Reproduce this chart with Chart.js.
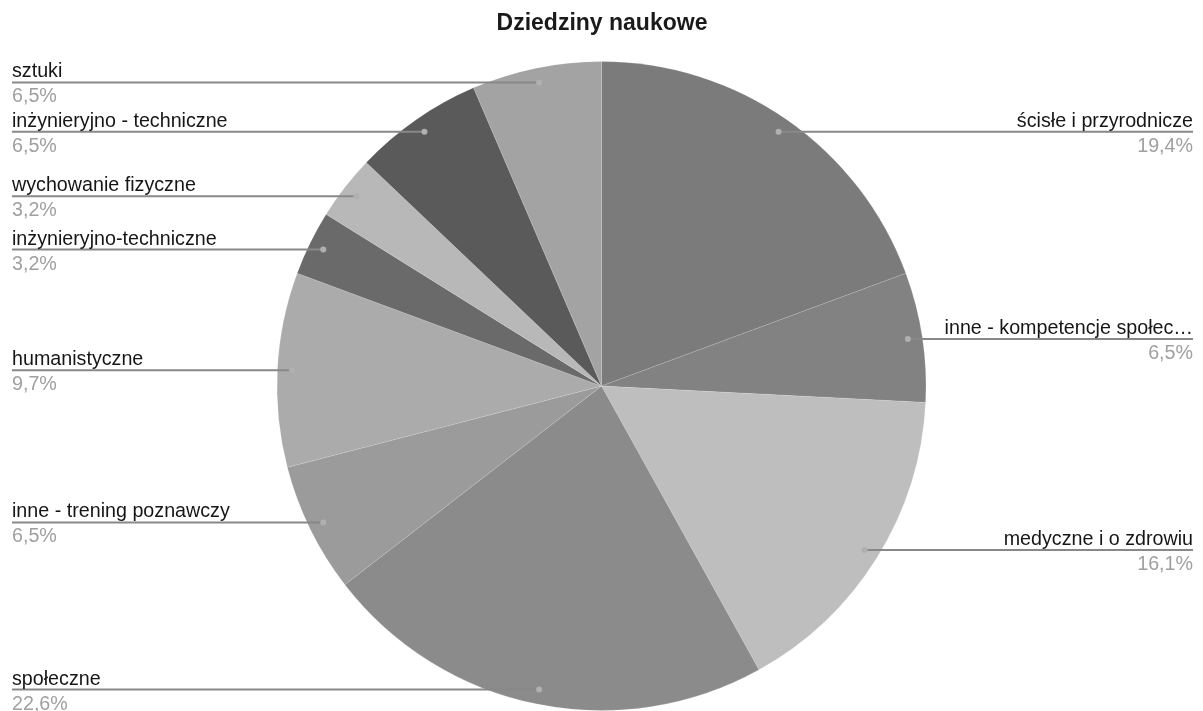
<!DOCTYPE html>
<html>
<head>
<meta charset="utf-8">
<script src="https://cdn.jsdelivr.net/npm/chart.js@4"></script>
<style>
html,body{margin:0;padding:0;background:#fff;}
#wrap{width:1203px;height:711px;}
</style>
</head>
<body>
<div id="wrap"><canvas id="c" width="1203" height="711"></canvas></div>
<script>
const chartTitle = "Dziedziny naukowe";
const categories = [
  "ścisłe i przyrodnicze",
  "inne - kompetencje społec…",
  "medyczne i o zdrowiu",
  "społeczne",
  "inne - trening poznawczy",
  "humanistyczne",
  "inżynieryjno-techniczne",
  "wychowanie fizyczne",
  "inżynieryjno - techniczne",
  "sztuki"
];
const counts = [6, 2, 5, 7, 2, 3, 1, 1, 2, 2];
const sliceColors = [
  "#7b7b7b", "#828282", "#bebebe", "#8b8b8b", "#9b9b9b",
  "#ababab", "#6a6a6a", "#b8b8b8", "#5a5a5a", "#a3a3a3"
];

const FONT = "'Liberation Sans', Arial, sans-serif";

const titlePlugin = {
  id: 'titleText',
  afterDraw(chart) {
    const ctx = chart.ctx;
    ctx.save();
    ctx.font = "bold 23px " + FONT;
    ctx.fillStyle = "#1a1a1a";
    ctx.textAlign = "center";
    ctx.textBaseline = "alphabetic";
    ctx.fillText(chartTitle, 602, 30);
    ctx.restore();
  }
};

const leaderPlugin = {
  id: 'leaders',
  afterDatasetsDraw(chart) {
    const ctx = chart.ctx;
    const meta = chart.getDatasetMeta(0);
    const data = chart.data.datasets[0].data;
    const total = data.reduce((a, b) => a + b, 0);
    ctx.save();
    meta.data.forEach((arc, i) => {
      const p = arc.getProps(['x', 'y', 'startAngle', 'endAngle', 'outerRadius'], true);
      const mid = (p.startAngle + p.endAngle) / 2;
      const rr = p.outerRadius * 0.955;
      const dx = p.x + Math.cos(mid) * rr;
      const dy = p.y + Math.sin(mid) * rr;
      const right = Math.cos(mid) >= 0;
      const xEdge = right ? 1193 : 12;
      ctx.strokeStyle = "#888888";
      ctx.lineWidth = 2;
      ctx.beginPath();
      ctx.moveTo(dx, dy);
      ctx.lineTo(xEdge, dy);
      ctx.stroke();
      ctx.fillStyle = "#b0b0b0";
      ctx.beginPath();
      ctx.arc(dx, dy, 3, 0, Math.PI * 2);
      ctx.fill();
      ctx.textAlign = right ? "right" : "left";
      ctx.textBaseline = "alphabetic";
      ctx.font = "19.7px " + FONT;
      ctx.fillStyle = "#161616";
      ctx.fillText(chart.data.labels[i], xEdge, dy - 5);
      ctx.fillStyle = "#a0a0a0";
      const pct = (data[i] / total * 100).toFixed(1).replace('.', ',') + "%";
      ctx.fillText(pct, xEdge, dy + 20);
    });
    ctx.restore();
  }
};

new Chart(document.getElementById('c'), {
  type: 'pie',
  data: {
    labels: categories,
    datasets: [{
      data: counts,
      backgroundColor: sliceColors,
      borderColor: "rgba(255,255,255,0.12)",
      borderWidth: 1
    }]
  },
  options: {
    responsive: false,
    animation: false,
    layout: { padding: { top: 61, bottom: 0, left: 0, right: 0 } },
    plugins: {
      legend: { display: false },
      tooltip: { enabled: false },
      title: { display: false }
    }
  },
  plugins: [titlePlugin, leaderPlugin]
});
</script>
</body>
</html>
